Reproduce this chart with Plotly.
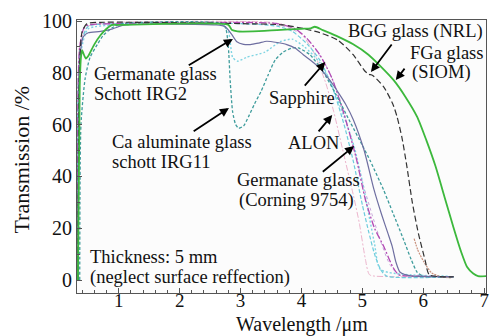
import plotly.graph_objects as go

# ---------------- data ----------------
fga_x = [0.33, 0.36, 0.38, 0.40, 0.42, 0.46, 0.50, 0.60, 0.70, 0.80, 0.89, 1.0, 2.8, 2.86, 2.95, 3.2, 3.6, 4.0, 4.15, 4.22, 4.35, 4.6, 4.85, 5.1, 5.3, 5.52, 5.7, 5.9, 6.05, 6.2, 6.35, 6.5, 6.62, 6.72, 6.82, 6.9, 7.03]
fga_y = [0, 75, 86, 88.8, 87.5, 85.5, 86.5, 91, 94.5, 97, 98.5, 98.5, 98.5, 96.5, 96, 96, 96.5, 97, 97.2, 97.8, 96.5, 94, 91, 87, 82.5, 77, 71, 63, 54, 44, 32, 20, 11, 5, 2.5, 1.5, 1.5]

bgg_x = [0.33, 0.36, 0.40, 0.48, 0.7, 3.0, 3.7, 4.05, 4.3, 4.6, 4.85, 5.03, 5.1, 5.17, 5.35, 5.5, 5.57, 5.65, 5.73, 5.82, 5.92, 6.03, 6.1, 6.5]
bgg_y = [0, 85, 96, 99, 99.5, 99, 98.5, 97, 95.5, 92.6, 87, 81, 79.5, 79, 74.6, 68, 63, 55, 44, 30, 18, 7.7, 2, 1.2]

irg2_x = [0.33, 0.36, 0.42, 0.5, 0.7, 0.9, 1.1, 2.6, 2.75, 2.85, 2.94, 3.05, 3.16, 3.3, 3.43, 3.6, 3.76, 3.9, 4.03, 4.17, 4.3, 4.42, 4.52, 4.63, 4.73, 4.85, 5.03, 5.19, 5.32, 5.42, 5.49, 5.55, 5.62, 5.8, 6.5]
irg2_y = [0, 85, 94, 95.5, 96, 97, 98.5, 98.5, 97.8, 95, 92, 91, 90.9, 91.5, 92.2, 91.7, 90.9, 89.5, 87, 84.5, 81.9, 78.5, 75.4, 71.5, 67.7, 62, 50, 35, 25, 18, 13, 7, 3, 1.6, 1.3]

irg11_x = [0.36, 0.38, 0.45, 0.53, 0.65, 0.75, 0.9, 1.05, 2.7, 2.76, 2.8, 2.83, 2.87, 2.92, 2.97, 3.05, 3.13, 3.23, 3.34, 3.45, 3.57, 3.7, 3.85, 3.95, 4.14, 4.35, 4.57, 4.8, 5.0, 5.13, 5.35, 5.5, 5.68, 5.8, 5.9, 6.0, 6.5]
irg11_y = [0, 60, 78, 86, 91, 94.6, 97.5, 99, 99, 97, 90, 77, 65, 60, 58.6, 59.5, 63, 68, 73, 79, 85, 88, 89.6, 89.6, 87, 80.6, 71.5, 61, 52, 46, 34.7, 26, 15.4, 8, 3, 1.5, 1.2]

sapph_x = [0.33, 0.36, 0.45, 1.0, 3.0, 3.6, 3.9, 4.1, 4.3, 4.5, 4.7, 4.9, 5.05, 5.2, 5.35, 5.5, 5.6, 6.0, 6.5]
sapph_y = [0, 90, 98, 99, 99.5, 99, 97, 93, 87, 78, 64, 47, 31, 20, 13, 5, 2, 1.5, 1.2]

cyan_x = [0.33, 0.37, 0.5, 1.0, 3.0, 3.6, 3.85, 4.1, 4.3, 4.5, 4.7, 4.85, 5.0, 5.1, 5.2, 5.3, 5.4, 6.5]
cyan_y = [0, 90, 98, 99, 99, 98, 96, 91, 85, 75, 60, 46, 29, 19, 10, 4, 1.5, 1.2]

corning_x = [0.33, 0.38, 0.5, 1.0, 2.7, 2.8, 2.87, 2.95, 3.1, 3.4, 3.65, 3.85, 4.05, 4.3, 4.5, 4.7, 4.86, 5.0, 5.1, 5.2, 5.3, 6.4]
corning_y = [0, 88, 97, 98.5, 98.5, 96, 86, 84.5, 86, 88, 92, 93, 90, 84, 75, 63, 52, 38, 26, 14, 4, 1.5]

alon_x = [0.33, 0.37, 0.5, 1.0, 3.5, 3.8, 4.0, 4.2, 4.4, 4.53, 4.7, 4.85, 4.95, 5.05, 5.12, 5.5, 6.2]
alon_y = [0, 92, 98, 99.5, 99.5, 98, 95, 88, 76, 65, 48, 33, 22, 8, 2, 1.3, 1.2]

lav_x = [0.33, 0.37, 0.5, 1.0, 3.2, 3.7, 4.0, 4.2, 4.4, 4.6, 4.8, 5.0, 5.15, 5.3, 5.45, 5.6, 6.3]
lav_y = [0, 90, 98, 99, 99, 98, 95, 90, 83, 72, 56, 38, 26, 15, 6, 2, 1.3]

brown_x = [5.85, 5.91, 6.01, 6.14, 6.3, 6.47]
brown_y = [16, 11.6, 7, 2.7, 1.2, 0.8]

series = [
    (lav_x, lav_y, "#c8a8dc", "dot", 1.0),
    (alon_x, alon_y, "#ecb4cc", "6px,2px,2px,2px", 1.0),
    (cyan_x, cyan_y, "#6cccdc", "4px,2px", 1.2),
    (corning_x, corning_y, "#7ed4e2", "2px,2px", 1.4),
    (sapph_x, sapph_y, "#b24ab4", "7px,2px,2px,2px", 1.3),
    (brown_x, brown_y, "#c8907c", "2px,1px", 1.2),
    (irg11_x, irg11_y, "#3e9c9c", "3px,2px", 1.3),
    (irg2_x, irg2_y, "#6e6ea0", "solid", 1.2),
    (bgg_x, bgg_y, "#333333", "6px,3px", 1.2),
    (fga_x, fga_y, "#3cb83c", "solid", 1.8),
]

FONT = "Liberation Serif, DejaVu Serif, serif"

fig = go.Figure()
for xs, ys, col, dash, w in series:
    fig.add_trace(go.Scatter(x=xs, y=ys, mode="lines",
                             line=dict(color=col, dash=dash, width=w, shape="spline", smoothing=0.6),
                             showlegend=False, hoverinfo="skip"))

# text labels: (text, x, y)
labels = [
    ("Germanate glass", 0.56, 79.4),
    ("Schott IRG2", 0.56, 72.0),
    ("Ca aluminate glass", 0.853, 53.1),
    ("schott IRG11", 0.853, 45.4),
    ("Sapphire", 3.43, 70.3),
    ("ALON", 3.74, 52.9),
    ("Germanate glass", 2.91, 38.8),
    ("(Corning 9754)", 2.94, 30.7),
    ("BGG glass (NRL)", 4.73, 95.8),
    ("FGa glass", 5.745, 87.8),
    ("(SIOM)", 5.777, 80.1),
    ("Thickness: 5 mm", 0.494, 8.7),
    ("(neglect surface reffection)", 0.494, 1.0),
]
for t, x, y in labels:
    fig.add_annotation(text=t, x=x, y=y, xref="x", yref="y", xanchor="left", yanchor="middle",
                       showarrow=False, font=dict(family=FONT, size=18.5, color="#111"))

# arrows: (tail x, tail y, tip x, tip y)
arrows = [
    (2.125, 82.6, 2.875, 93.1),
    (2.206, 57.1, 2.81, 66.4),
    (4.033, 74.5, 4.391, 84.2),
    (4.261, 56.8, 4.505, 63.7),
    (4.326, 41.3, 4.864, 51.7),
    (5.50, 91.5, 5.141, 80.3),
    (5.712, 82.2, 5.549, 77.2),
]
for ax_, ay_, x, y in arrows:
    fig.add_annotation(text="", x=x, y=y, ax=ax_, ay=ay_, xref="x", yref="y", axref="x", ayref="y",
                       showarrow=True, arrowhead=2, arrowsize=1.0, arrowwidth=1.8, arrowcolor="#000")

# axis titles
fig.add_annotation(text="Wavelength /μm", x=0.549, y=-0.114, xref="paper", yref="paper",
                   xanchor="center", yanchor="middle",
                   showarrow=False, font=dict(family=FONT, size=20, color="#111"))
fig.add_annotation(text="Transmission /%", x=-0.138, y=0.487, xref="paper", yref="paper", textangle=-90,
                   xanchor="center", yanchor="middle",
                   showarrow=False, font=dict(family=FONT, size=22, color="#111"))

x_ticks = [1, 2, 3, 4, 5, 6, 7]
y_ticks = [0, 20, 40, 60, 80, 100]

fig.update_xaxes(range=[0.315, 7.03], tickvals=x_ticks, ticktext=[str(v) for v in x_ticks],
                 ticks="inside", ticklen=5, tickcolor="#555", showline=True, linecolor="#555", linewidth=1, mirror=True,
                 showgrid=False, zeroline=False, tickfont=dict(family=FONT, size=19, color="#111"),
                 ticklabelstandoff=-10, ticklabeloverflow="allow",
                 minor=dict(ticks="inside", ticklen=3, dtick=0.2, tick0=0, tickcolor="#555"))
fig.update_yaxes(range=[-5.02, 100.4], tickvals=y_ticks, ticktext=[str(v) for v in y_ticks],
                 ticks="inside", ticklen=5, tickcolor="#555", showline=True, linecolor="#555", linewidth=1, mirror=True,
                 showgrid=False, zeroline=False, tickfont=dict(family=FONT, size=20, color="#111"),
                 ticklabeloverflow="allow",
                 minor=dict(ticks="inside", ticklen=3, dtick=10, tick0=0, tickcolor="#555"))

fig.update_layout(width=492, height=336, margin=dict(l=77, r=3, t=20, b=43),
                  paper_bgcolor="white", plot_bgcolor="#fcfcfc", font=dict(family=FONT))

fig.write_html("out.html", config={"displayModeBar": False},
               post_script="document.body.style.margin='0';document.body.style.padding='0';")
